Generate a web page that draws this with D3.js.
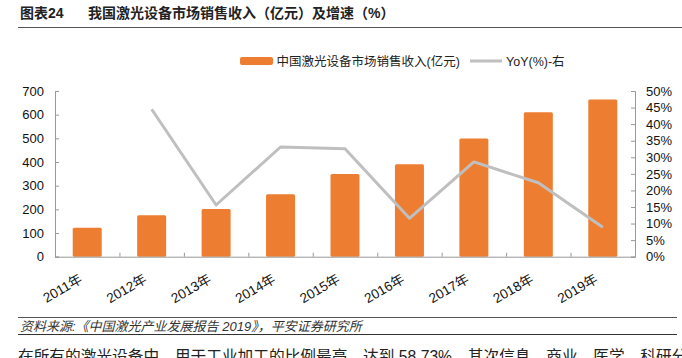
<!DOCTYPE html>
<html><head><meta charset="utf-8">
<script src="https://cdn.jsdelivr.net/npm/d3@7/dist/d3.min.js"></script>
<style>body{margin:0;background:#fff;}svg{display:block;}</style>
</head><body><svg id="c" width="682" height="358"></svg>
<script>
const categories = ["2011年","2012年","2013年","2014年","2015年","2016年","2017年","2018年","2019年"];
const revenue = [122,175,201,264,349,391,499,610,664];
const yoy = [null,44.5,15.6,33.1,32.6,11.6,28.6,22.3,8.9];
const leftTicks = [0,100,200,300,400,500,600,700];
const rightTicks = [0,5,10,15,20,25,30,35,40,45,50];

const svg = d3.select("#c");
const font = "'Liberation Sans', Arial, 'Noto Sans CJK SC', sans-serif";
const cjk = "'Liberation Sans', 'Noto Sans CJK SC', sans-serif";
const L=55, R=635, T=91, B=256.7;
const x = d3.scaleBand().domain(categories).range([L,R]).paddingInner(0.55).paddingOuter(0.275);
const xb = d3.scaleLinear().domain([0,categories.length]).range([L,R]);
const yL = d3.scaleLinear().domain([0,700]).range([B,T]);
const yR = d3.scaleLinear().domain([0,50]).range([B,T]);

// title
svg.append("text").attr("x",20).attr("y",18).attr("font-family",cjk).attr("font-weight","bold")
  .attr("font-size",14).attr("fill","#222").text("图表24");
svg.append("text").attr("x",88).attr("y",18).attr("font-family",cjk).attr("font-weight","bold")
  .attr("font-size",14).attr("fill","#222").text("我国激光设备市场销售收入（亿元）及增速（%）");
svg.append("line").attr("x1",18).attr("x2",682).attr("y1",27.5).attr("y2",27.5).attr("stroke","#555").attr("stroke-width",1.2);

// bars
svg.append("g").selectAll("rect").data(revenue).join("rect")
  .attr("x",(d,i)=>x(categories[i])).attr("width",x.bandwidth())
  .attr("y",d=>yL(d)).attr("height",d=>yL(0)-yL(d))
  .attr("rx",1.5).attr("fill","#ED7D31");

// axes
const axisColor="#999";
const gL = svg.append("g").attr("transform",`translate(${L},0)`)
  .call(d3.axisLeft(yL).tickValues(leftTicks).tickSize(-4).tickPadding(11));
const gR = svg.append("g").attr("transform",`translate(${R},0)`)
  .call(d3.axisRight(yR).tickValues(rightTicks).tickSize(-4).tickPadding(11).tickFormat(d=>d+"%"));
const gX = svg.append("g").attr("transform",`translate(0,${B})`)
  .call(d3.axisBottom(xb).tickValues(d3.range(0,categories.length+1)).tickSize(-4).tickFormat(""));
[gL,gR,gX].forEach(g=>{
  g.select(".domain").attr("stroke",axisColor);
  g.selectAll(".tick line").attr("stroke",axisColor);
  g.selectAll("text").attr("font-family",font).attr("font-size",13).attr("fill","#111");
});
gX.selectAll(".tick text").remove();

// x labels
svg.append("g").selectAll("text").data(categories).join("text")
  .attr("transform",d=>`translate(${x(d)+x.bandwidth()/2-4},${B+25}) rotate(-30)`)
  .attr("text-anchor","end")
  .attr("font-family",cjk).attr("font-size",13.5).attr("fill","#111").text(d=>d);

// line
const line = d3.line().defined(d=>d!=null)
  .x((d,i)=>x(categories[i])+x.bandwidth()/2).y(d=>yR(d));
svg.append("path").datum(yoy).attr("d",line).attr("fill","none")
  .attr("stroke","#BFBFBF").attr("stroke-width",3).attr("stroke-linejoin","round");

// legend
svg.append("rect").attr("x",240).attr("y",57).attr("width",33).attr("height",8).attr("rx",2).attr("fill","#ED7D31");
svg.append("text").attr("x",276.5).attr("y",65.5).attr("font-family",cjk).attr("font-size",12.5).attr("fill","#222")
  .text("中国激光设备市场销售收入(亿元)");
svg.append("line").attr("x1",470).attr("x2",502).attr("y1",61).attr("y2",61).attr("stroke","#BFBFBF").attr("stroke-width",3);
svg.append("text").attr("x",506).attr("y",65.5).attr("font-family",cjk).attr("font-size",12.5).attr("fill","#222")
  .text("YoY(%)-右");

// footer
svg.append("line").attr("x1",18).attr("x2",677).attr("y1",317.5).attr("y2",317.5).attr("stroke","#555").attr("stroke-width",1);
svg.append("text").attr("x",20).attr("y",331).attr("font-family",cjk).attr("font-size",13).attr("font-style","italic").attr("fill","#333")
  .text("资料来源:《中国激光产业发展报告 2019》，平安证券研究所");
svg.append("line").attr("x1",18).attr("x2",677).attr("y1",334.5).attr("y2",334.5).attr("stroke","#333").attr("stroke-width",1);
svg.append("text").attr("x",18).attr("y",362).attr("font-family",cjk).attr("font-size",15.7).attr("fill","#222")
  .text("在所有的激光设备中，用于工业加工的比例最高，达到 58.73%，其次信息、商业、医学、科研分别");
</script></body></html>
